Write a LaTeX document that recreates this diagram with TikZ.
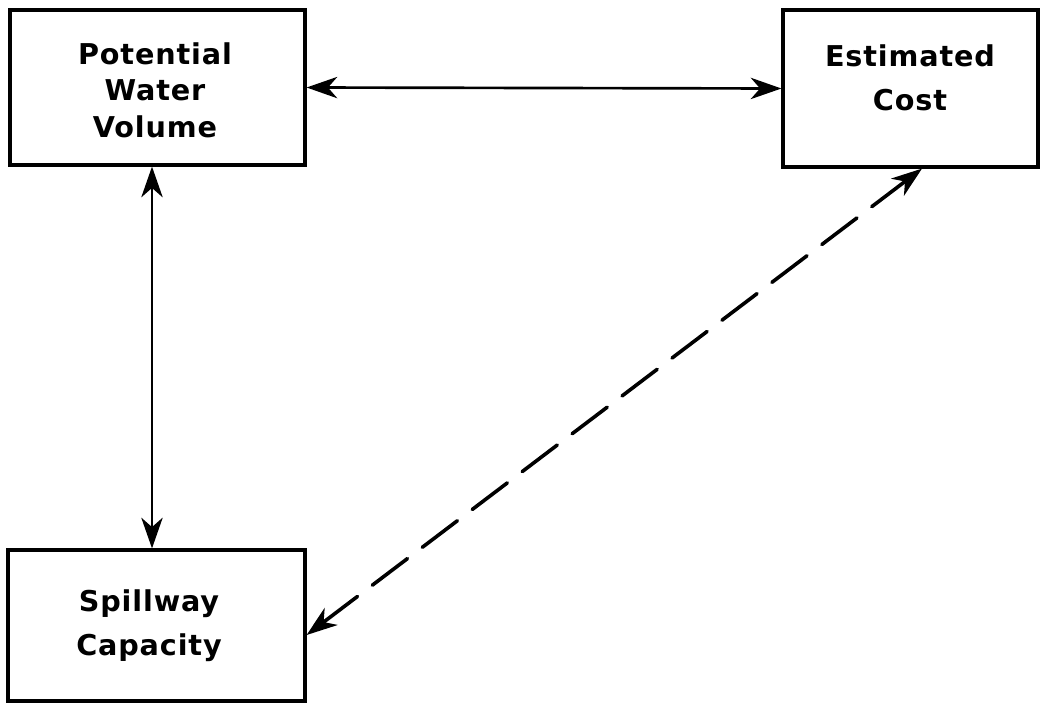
\documentclass[tikz,border=0pt]{standalone}
\usepackage{fontspec}
\setmainfont{DejaVu Sans}[LetterSpace=3]
\usetikzlibrary{arrows.meta}
\begin{document}
\begin{tikzpicture}[x=0.75pt,y=-0.75pt,
  box/.style={draw, line width=2.4pt, inner sep=0pt},
  lbl/.style={align=center, font=\fontsize{21.5}{27.5}\selectfont\bfseries, inner sep=0pt},
  lblw/.style={lbl, font=\fontsize{21.5}{33}\selectfont\bfseries},
  tipr/.tip={Stealth[length=23pt,width=16pt,inset=7pt]},
  link/.style={line width=2pt, tipr-tipr},
  dlink/.style={line width=2.7pt, dash pattern=on 33pt off 14pt, line cap=round, tipr-tipr}
]
\useasboundingbox (0,0) rectangle (1041,703);
\node[box, minimum width=295*0.75pt, minimum height=155*0.75pt] (pwv) at (157.5,87.5) {};
\node[box, minimum width=255*0.75pt, minimum height=157*0.75pt] (ec) at (910.5,88.5) {};
\node[box, minimum width=297*0.75pt, minimum height=151*0.75pt] (sc) at (156.5,625.5) {};
\node[lbl] (t1) at (155,90) {Potential\\Water\\Volume};
\node[lblw] (t2) at (910,78) {Estimated\\Cost};
\node[lblw] (t3) at (149,626) {Spillway\\Capacity};
\coordinate (v1) at (pwv.south -| 152,0);
\coordinate (v2) at (sc.north -| 152,0);
\coordinate (d1) at (sc.east |- 0,635);
\coordinate (d2) at (ec.south -| 922,0);
\draw[link] (pwv.east) -- (ec.west);
\draw[link] (v1) -- (v2);
\draw[dlink] (d1) -- (d2);
\end{tikzpicture}
\end{document}
